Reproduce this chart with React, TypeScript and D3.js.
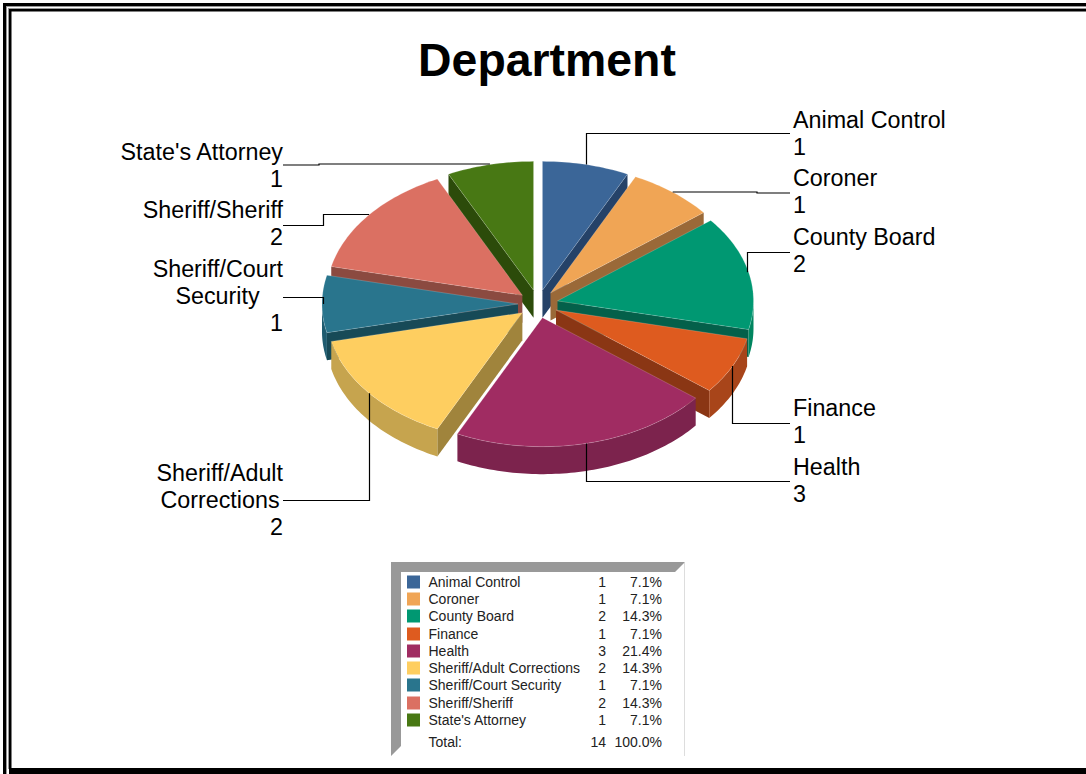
import React from "react";
import * as d3 from "d3";

const categories = ["Animal Control", "Coroner", "County Board", "Finance", "Health", "Sheriff/Adult Corrections", "Sheriff/Court Security", "Sheriff/Sheriff", "State's Attorney"];
const counts = [1, 1, 2, 1, 3, 2, 1, 2, 1];
const percents = ["7.1%", "7.1%", "14.3%", "7.1%", "21.4%", "14.3%", "7.1%", "14.3%", "7.1%"];
const topColors = ["#3B6698", "#F0A555", "#009872", "#DE5B1F", "#A02C62", "#FECE60", "#29758D", "#DB7062", "#487814"];
const rimColors = ["#2A4A70", "#AD773D", "#00855F", "#A8451A", "#7C234D", "#C6A44E", "#1F5C70", "#9A4F45", "#2F4F0B"];
const wallColors = ["#254268", "#9A6938", "#04604A", "#8A3614", "#7C234D", "#A0843C", "#174A57", "#8B4A40", "#2C4B0A"];
const labelLines = [["Animal Control", "1"], ["Coroner", "1"], ["County Board", "2"], ["Finance", "1"], ["Health", "3"], ["Sheriff/Adult", "Corrections", "2"], ["Sheriff/Court", "Security", "1"], ["Sheriff/Sheriff", "2"], ["State's Attorney", "1"]];
// Label anchor side, first text baseline, and the route of each callout line after it leaves the pie.
const labelSides = ["start", "start", "start", "start", "start", "end", "end", "end", "end"];
const labelTops = [128, 186, 245, 416, 475, 481, 277, 218, 160];
const middleLineCentres: Record<number, number> = { 5: 220, 6: 217.5 };
const calloutRoutes: number[][][] = [
  [[586.5, 133.5], [790, 133.5]],
  [[757, 192], [757, 193], [790, 193]],
  [[747.5, 252.5], [790, 252.5]],
  [[732.5, 423.5], [790, 423.5]],
  [[586.5, 481.5], [790, 481.5]],
  [[369.5, 500.5], [283, 500.5]],
  [[323.5, 297.5], [283, 297.5]],
  [[323.5, 214.5], [323.5, 225.5], [283, 225.5]],
  [[319, 164], [319, 165], [283, 165]],
];
const totalCount = 14;
const totalPercent = "100.0%";
const legendRowCenters = [582, 599, 616, 634, 651, 668, 685, 703, 720];

const cx = 538, cy = 304, rx = 196, ry = 129, depth = 27.5, explode = 20, explodeY = 14;
const FONT = "'Liberation Sans', Arial, sans-serif";

const slices = d3.pie<number>().sort(null).startAngle(0).endAngle(2 * Math.PI)(counts);

// Angles run clockwise from twelve o'clock.
const rim = (a: number, ox: number, oy: number, dy = 0): [number, number] => [ox + rx * Math.sin(a), oy - ry * Math.cos(a) + dy];

function arcPoints(a0: number, a1: number, ox: number, oy: number, dy = 0) {
  const n = Math.max(2, Math.ceil(Math.abs(a1 - a0) / 0.02));
  return d3.range(n + 1).map((i) => rim(a0 + ((a1 - a0) * i) / n, ox, oy, dy));
}
const line = d3.line();

const pieces = slices.map((s, i) => {
  const mid = (s.startAngle + s.endAngle) / 2;
  const ox = cx + explode * Math.sin(mid);
  const oy = cy - explodeY * Math.cos(mid);
  return { i, s, mid, ox, oy };
});
// Painter's order: slices whose centre sits higher go down first.
const drawOrder = [...pieces].sort((a, b) => a.oy - b.oy);

function Slice({ p }: { p: (typeof pieces)[number] }) {
  const { s, i, ox, oy } = p;
  const parts: React.ReactNode[] = [];
  const apexLow: [number, number] = [ox, oy + depth];
  const apex: [number, number] = [ox, oy];
  if (s.endAngle < Math.PI) {
    parts.push(<path key="end" d={line([apex, rim(s.endAngle, ox, oy), rim(s.endAngle, ox, oy, depth), apexLow])! + "Z"} fill={wallColors[i]} />);
  }
  if (s.startAngle > Math.PI) {
    parts.push(<path key="start" d={line([apex, rim(s.startAngle, ox, oy), rim(s.startAngle, ox, oy, depth), apexLow])! + "Z"} fill={wallColors[i]} />);
  }
  const a0 = Math.max(s.startAngle, Math.PI / 2);
  const a1 = Math.min(s.endAngle, (3 * Math.PI) / 2);
  if (a1 > a0) {
    const upper = arcPoints(a0, a1, ox, oy);
    const lower = arcPoints(a1, a0, ox, oy, depth);
    parts.push(<path key="rim" d={line([...upper, ...lower])! + "Z"} fill={rimColors[i]} />);
  }
  const top = [apex, ...arcPoints(s.startAngle, s.endAngle, ox, oy)];
  parts.push(<path key="top" d={line(top)! + "Z"} fill={topColors[i]} stroke="#fff" strokeOpacity={0.3} strokeWidth={0.6} strokeLinejoin="round" />);
  return <g>{parts}</g>;
}

// The callout leaves the slice at the middle of its arc, square to the first elbow.
function calloutPath(i: number) {
  const p = pieces[i];
  const [sx, sy] = rim(p.mid, p.ox, p.oy);
  const first = calloutRoutes[i][0];
  const start: [number, number] = Math.abs(first[0] - sx) < Math.abs(first[1] - sy) ? [first[0], sy] : [sx, first[1]];
  return line([start, ...(calloutRoutes[i] as [number, number][])])!;
}

export default function App() {
  return (
    <svg width={1086} height={774} style={{ position: "absolute", left: 0, top: 0, display: "block" }} fontFamily={FONT}>
      <rect width={1086} height={774} fill="#fff" />
      {/* Double page frame, open on the right */}
      <rect x={3} y={3} width={1083} height={3} fill="#000" />
      <rect x={3} y={3} width={3} height={771} fill="#000" />
      <rect x={6} y={6} width={1080} height={1} fill="#999" />
      <rect x={6} y={6} width={1} height={768} fill="#999" />
      <rect x={8} y={8} width={1078} height={1} fill="#999" />
      <rect x={8} y={8} width={1} height={761} fill="#999" />
      <rect x={9} y={9} width={1077} height={2.5} fill="#000" />
      <rect x={9} y={9} width={2.5} height={760} fill="#000" />
      <rect x={9} y={768} width={1077} height={6} fill="#000" />
      <text x={547} y={76} textAnchor="middle" fontSize={46.4} fontWeight="bold" fill="#000">Department</text>

      {drawOrder.map((p) => <Slice key={p.i} p={p} />)}

      {pieces.map((p, i) => (
        <path key={i} d={calloutPath(i)} fill="none" stroke="#000" strokeWidth={1.2} />
      ))}

      {labelLines.map((lines, i) => (
        <g key={i} fontSize={23.3} fill="#000">
          {lines.map((t, k) => {
            const y = labelTops[i] + k * 27;
            if (labelSides[i] === "start") return <text key={k} x={793} y={y}>{t}</text>;
            if (k > 0 && k < lines.length - 1) return <text key={k} x={middleLineCentres[i]} y={y} textAnchor="middle">{t}</text>;
            return <text key={k} x={283} y={y} textAnchor="end">{t}</text>;
          })}
        </g>
      ))}

      {/* Legend panel with bevelled grey corner */}
      <path d="M391,562 H685 L675,572 H401 V746 L391,756 Z" fill="#999" />
      <line x1={684.5} y1={563} x2={684.5} y2={756} stroke="#ddd" />
      {categories.map((c, i) => (
        <g key={c} fontSize={14} fill="#222">
          <rect x={407} y={legendRowCenters[i] - 6.5} width={13} height={13} fill={topColors[i]} />
          <text x={428.5} y={legendRowCenters[i] + 5}>{c}</text>
          <text x={606} y={legendRowCenters[i] + 5} textAnchor="end">{counts[i]}</text>
          <text x={662} y={legendRowCenters[i] + 5} textAnchor="end">{percents[i]}</text>
        </g>
      ))}
      <g fontSize={14} fill="#222">
        <text x={428.5} y={747}>Total:</text>
        <text x={606} y={747} textAnchor="end">{totalCount}</text>
        <text x={662} y={747} textAnchor="end">{totalPercent}</text>
      </g>
    </svg>
  );
}
